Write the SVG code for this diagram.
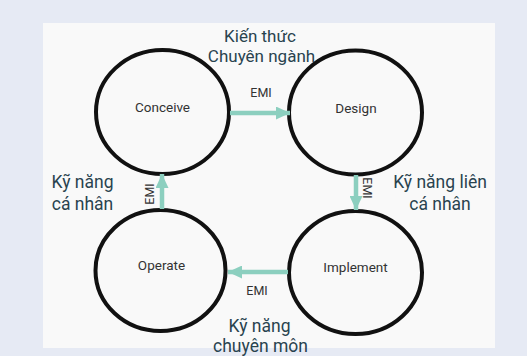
<svg xmlns="http://www.w3.org/2000/svg" width="527" height="356" viewBox="0 0 527 356">
<style>
.node{fill:none;stroke:#111;stroke-width:4}
.nl{font-family:Roboto,"Liberation Sans",sans-serif;font-size:13.5px;fill:#333;text-anchor:middle}
.emi{font-family:Roboto,"Liberation Sans",sans-serif;font-size:12.5px;fill:#333;text-anchor:middle}
.big{font-family:Roboto,"Liberation Sans",sans-serif;font-size:17.5px;fill:#29434f;text-anchor:middle}
.top{font-size:17px}
.con{stroke:#8ccfbf;stroke-width:4.5;fill:none}
</style>
<defs>
<marker id="ah" markerUnits="userSpaceOnUse" markerWidth="14" markerHeight="13" refX="14" refY="6.5" orient="auto">
<path d="M0,0 L14,6.5 L0,13 Z" fill="#8ccfbf"/>
</marker>
</defs>
<rect x="0" y="0" width="527" height="356" fill="#e6eaf4"/>
<rect x="43" y="23" width="452" height="325" fill="#f9f9f9"/>
<g id="conceive"><ellipse class="node" cx="162.5" cy="112" rx="66.5" ry="62"/><text class="nl" x="162.5" y="112">Conceive</text></g>
<g id="design"><ellipse class="node" cx="355.5" cy="112.5" rx="66.5" ry="62"/><text class="nl" x="356" y="113">Design</text></g>
<g id="operate"><ellipse class="node" cx="160.5" cy="270.5" rx="65" ry="60.5"/><text class="nl" x="161.5" y="270">Operate</text></g>
<g id="implement"><ellipse class="node" cx="355.5" cy="272.5" rx="66.5" ry="61.5"/><text class="nl" x="355.5" y="272">Implement</text></g>
<g id="connectors">
<line class="con" x1="230" y1="113" x2="290" y2="113" marker-end="url(#ah)"/>
<line class="con" x1="356" y1="175" x2="356" y2="210" marker-end="url(#ah)"/>
<line class="con" x1="288" y1="272" x2="228" y2="272" marker-end="url(#ah)"/>
<line class="con" x1="162" y1="209" x2="162" y2="174" marker-end="url(#ah)"/>
<text class="emi" x="261" y="97">EMI</text>
<text class="emi" x="257" y="295">EMI</text>
<text class="emi" transform="translate(363,188) rotate(90)">EMI</text>
<text class="emi" transform="translate(154,194) rotate(-90)">EMI</text>
</g>
<text class="big top" x="260" y="42">Kiến thức</text>
<text class="big top" x="261.5" y="62">Chuyên ngành</text>
<text class="big" x="440" y="188">Kỹ năng liên</text>
<text class="big" x="440" y="210">cá nhân</text>
<text class="big" x="82.5" y="188">Kỹ năng</text>
<text class="big" x="82.5" y="210">cá nhân</text>
<text class="big" x="259.5" y="332">Kỹ năng</text>
<text class="big" x="260.5" y="352">chuyên môn</text>
</svg>
